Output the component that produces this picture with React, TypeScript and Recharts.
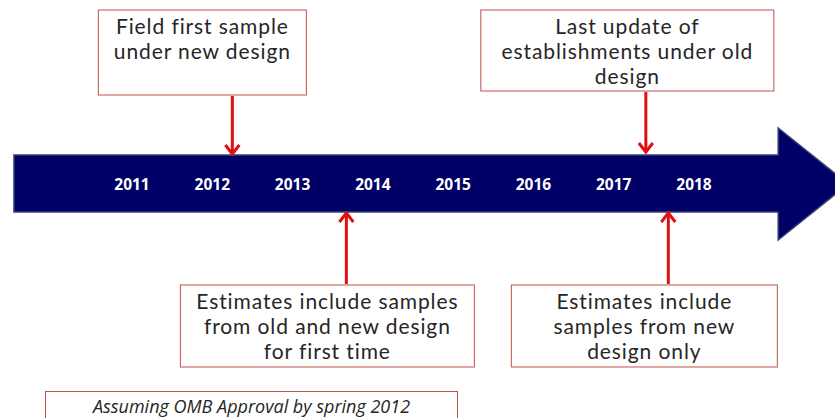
import { ComposedChart, XAxis, YAxis, Scatter, ReferenceArea } from 'recharts';

// timeline years shown on the arrow
const years = [2011, 2012, 2013, 2014, 2015, 2016, 2017, 2018];
const arrowTail = 2009.53;
const arrowTip = 2019.92;

// callouts: where each red arrow hits the timeline
const calloutYears = [2012.25, 2017.4, 2013.67, 2017.68];
const calloutSides = ['top', 'top', 'bottom', 'bottom'];
const calloutTexts = [
  ['Field first sample', 'under new design'],
  ['Last update of', 'establishments under old', 'design'],
  ['Estimates include samples', 'from old and new design', 'for first time'],
  ['Estimates include', 'samples from new', 'design only'],
];
const noteText = 'Assuming OMB Approval by spring 2012';

const W = 835;
const H = 418;
const X_DOMAIN: [number, number] = [2009.356, 2019.756];

// box layout (px, relative to arrow x)
const boxLayout = [
  { dx: -134, w: 208, top: 10, bottom: 95, tipY: 155 },
  { dx: -165, w: 293, top: 10, bottom: 91, tipY: 153 },
  { dx: -166, w: 294, top: 285, bottom: 367, tipY: 212 },
  { dx: -157, w: 266, top: 285, bottom: 367, tipY: 212 },
];

const FONT = '"Open Sans", "Noto Sans", sans-serif';
const BOX_FONT = 'Lato, "Open Sans", sans-serif';
const RED = '#e01010';
const BORDER = '#c0504d';

const yearData = years.map((y) => ({ x: y, y: 184, label: String(y) }));
const calloutData = calloutYears.map((y, i) => ({ x: y, y: 0, idx: i }));

const ArrowShape = (props: any) => {
  const { x, y, width, height } = props;
  const head = 70;
  const bodyTop = 155;
  const bodyBot = 212;
  const mid = y + height / 2;
  const hx = x + width - head;
  const pts = [
    [x, bodyTop],
    [hx, bodyTop],
    [hx, y],
    [x + width, mid],
    [hx, y + height],
    [hx, bodyBot],
    [x, bodyBot],
  ]
    .map((p) => p.join(','))
    .join(' ');
  return <polygon points={pts} fill="#000066" stroke="#33407a" strokeWidth={1.5} />;
};

const YearLabel = (props: any) => {
  const { cx, cy, payload } = props;
  return (
    <text
      x={cx}
      y={cy}
      textAnchor="middle"
      dominantBaseline="central"
      fill="#ffffff"
      fontFamily={FONT}
      fontWeight={700}
      fontSize={15.5}
    >
      {payload.label}
    </text>
  );
};

const Callout = (props: any) => {
  const { cx, payload } = props;
  const i = payload.idx;
  const b = boxLayout[i];
  const lines = calloutTexts[i];
  const top = calloutSides[i] === 'top';
  const bx = cx + b.dx;
  const startY = top ? b.bottom + 1 : b.top - 1;
  const tipY = b.tipY;
  const dir = top ? -1 : 1;
  const lineH = 25.3;
  const textX = bx + b.w / 2;
  const textY0 = b.top + 15;
  return (
    <g>
      <rect x={bx} y={b.top} width={b.w} height={b.bottom - b.top} fill="#ffffff" stroke={BORDER} strokeWidth={1} />
      {lines.map((l, k) => (
        <text
          key={k}
          x={textX}
          y={textY0 + k * lineH}
          textAnchor="middle"
          dominantBaseline="central"
          fill="#262626"
          fontFamily={BOX_FONT}
          fontSize={21}
          letterSpacing={0.9}
        >
          {l}
        </text>
      ))}
      <line x1={cx} y1={startY} x2={cx} y2={tipY + dir * 2} stroke={RED} strokeWidth={3} />
      <polyline
        points={`${cx - 7},${tipY + dir * 10} ${cx},${tipY + dir * 1} ${cx + 7},${tipY + dir * 10}`}
        fill="none"
        stroke={RED}
        strokeWidth={3}
      />
    </g>
  );
};

export default function App() {
  return (
    <div style={{ width: W, height: H, background: '#ffffff', position: 'relative', overflow: 'hidden' }}>
      <style>{`body{margin:0}`}</style>
      <ComposedChart width={W} height={H} margin={{ top: 0, right: 0, bottom: 0, left: 0 }}>
        <XAxis type="number" dataKey="x" domain={X_DOMAIN} hide allowDataOverflow />
        <YAxis type="number" dataKey="y" domain={[0, H]} reversed hide allowDataOverflow />
        <ReferenceArea
          x1={arrowTail}
          x2={arrowTip}
          y1={128}
          y2={240}
          ifOverflow="visible"
          shape={ArrowShape}
        />
        <Scatter data={yearData} shape={YearLabel} isAnimationActive={false} />
        <Scatter data={calloutData} shape={Callout} isAnimationActive={false} />
      </ComposedChart>
      <div
        style={{
          position: 'absolute',
          left: 45,
          top: 391,
          width: 413,
          height: 40,
          border: `1px solid ${BORDER}`,
          boxSizing: 'border-box',
          fontFamily: FONT,
          fontStyle: 'italic',
          fontSize: 18,
          lineHeight: '24px',
          color: '#262626',
          textAlign: 'center',
          paddingTop: 2,
        }}
      >
        {noteText}
      </div>
    </div>
  );
}
